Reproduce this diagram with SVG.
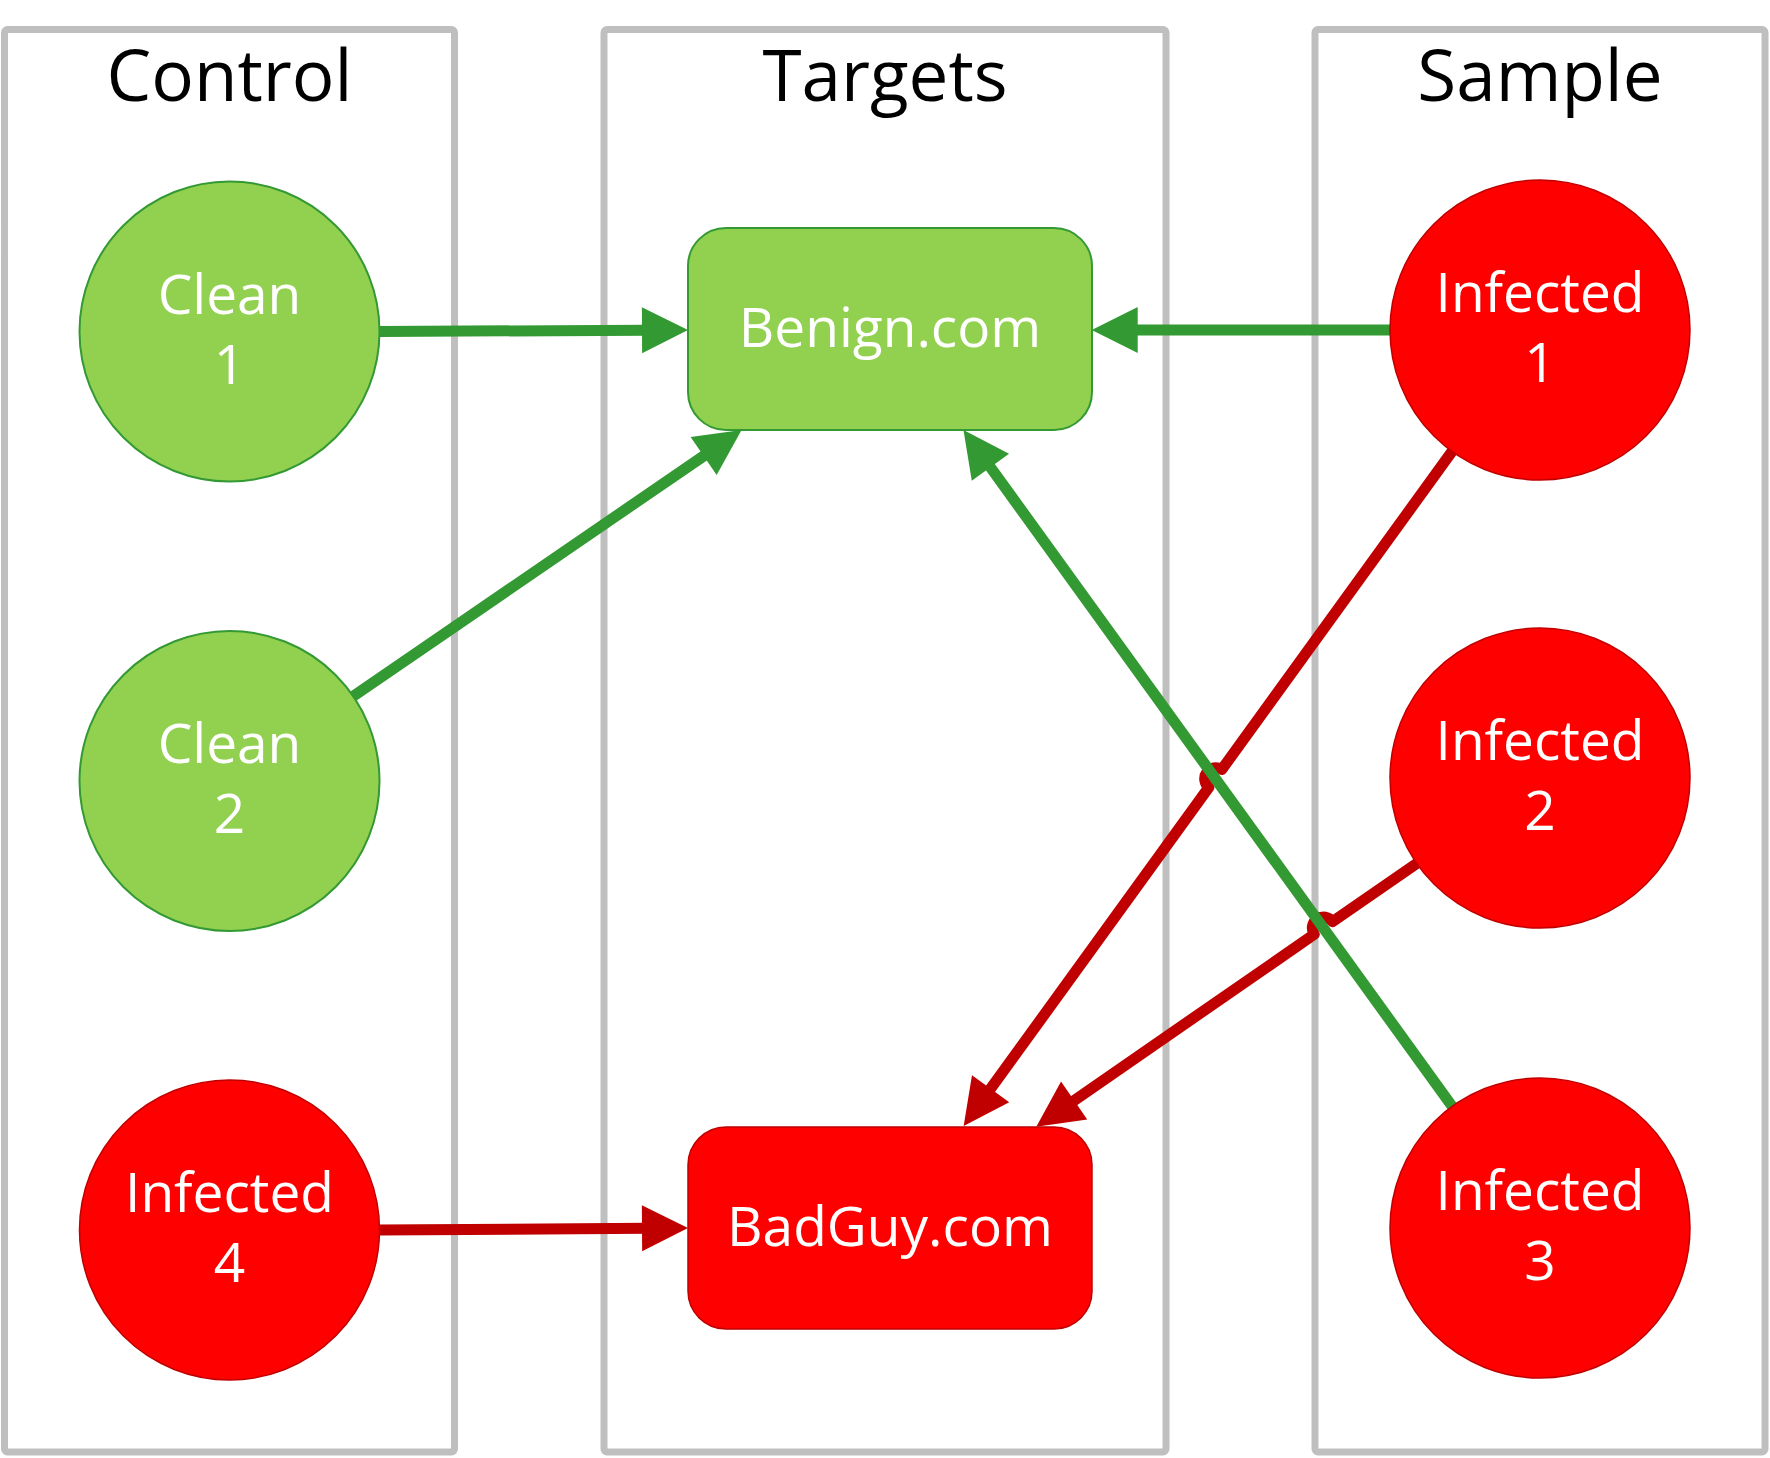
<svg xmlns="http://www.w3.org/2000/svg" width="1770" height="1458" viewBox="0 0 1770 1458">
<style>
.panel{fill:none;stroke:#BFBFBF;stroke-width:7}
.title{font-family:"Open Sans","Noto Sans",sans-serif;font-size:71px;fill:#000;text-anchor:middle}
.lbl{font-family:"Open Sans","Noto Sans",sans-serif;font-size:55px;fill:#fff;text-anchor:middle}
.gnode{fill:#92D050;stroke:#339933;stroke-width:2}
.rnode{fill:#FF0000;stroke:#C00000;stroke-width:1.5}
.gline{fill:none;stroke:#339933;stroke-width:11;stroke-linecap:round;stroke-linejoin:round;marker-end:url(#ag)}
.rline{fill:none;stroke:#C00000;stroke-width:11;stroke-linecap:round;stroke-linejoin:round;marker-end:url(#ar)}
</style>
<defs>
<marker id="ag" markerUnits="userSpaceOnUse" markerWidth="46" markerHeight="46" refX="6" refY="23" orient="auto" overflow="visible"><path d="M0,0 L46,23 L0,46 z" fill="#339933"/></marker>
<marker id="ar" markerUnits="userSpaceOnUse" markerWidth="46" markerHeight="46" refX="6" refY="23" orient="auto" overflow="visible"><path d="M0,0 L46,23 L0,46 z" fill="#C00000"/></marker>
</defs>
<rect width="1770" height="1458" fill="#fff"/>
<g id="panels">
<g id="panel-control"><rect class="panel" x="4.5" y="29.5" width="450" height="1422.5" rx="3"/><text class="title" x="229.5" y="101">Control</text></g>
<g id="panel-targets"><rect class="panel" x="604" y="29.5" width="562" height="1422.5" rx="3"/><text class="title" x="885" y="101">Targets</text></g>
<g id="panel-sample"><rect class="panel" x="1315" y="29.5" width="450" height="1422.5" rx="3"/><text class="title" x="1540" y="101">Sample</text></g>
</g>
<g id="connectors">
<path class="rline" d="M379.5,1230 L648,1228.3"/>
<path class="rline" d="M1452,451.5 L1221.8,769.5 A11,11 0 0 0 1208.9,787.3 L987.1,1093.6"/>
<path class="rline" d="M1416.7,863.4 L1332.4,921.7 A11,11 0 0 0 1314.3,934.3 L1069.2,1103.9"/>
<path class="gline" d="M379.5,331.5 L648,330.2"/>
<path class="gline" d="M1390,330 L1131.7,330"/>
<path class="gline" d="M353.2,696.2 L708.6,452.6"/>
<path class="gline" d="M1452.2,1106.4 L986.9,462.4"/>
</g>
<g id="clean1"><circle class="gnode" cx="229.5" cy="331.5" r="150"/><text class="lbl" x="229.5" y="313.5">Clean</text><text class="lbl" x="229.5" y="383.5">1</text></g>
<g id="clean2"><circle class="gnode" cx="229.5" cy="781" r="150"/><text class="lbl" x="229.5" y="763">Clean</text><text class="lbl" x="229.5" y="833">2</text></g>
<g id="infected4"><circle class="rnode" cx="229.5" cy="1230" r="150"/><text class="lbl" x="229.5" y="1212">Infected</text><text class="lbl" x="229.5" y="1282">4</text></g>
<g id="benign"><rect class="gnode" x="688" y="228" width="404" height="202" rx="38"/><text class="lbl" x="890" y="346.5">Benign.com</text></g>
<g id="badguy"><rect class="rnode" x="688" y="1127" width="404" height="202" rx="38"/><text class="lbl" x="890" y="1245.5">BadGuy.com</text></g>
<g id="infected1"><circle class="rnode" cx="1540" cy="330" r="150"/><text class="lbl" x="1540" y="312">Infected</text><text class="lbl" x="1540" y="382">1</text></g>
<g id="infected2"><circle class="rnode" cx="1540" cy="778" r="150"/><text class="lbl" x="1540" y="760">Infected</text><text class="lbl" x="1540" y="830">2</text></g>
<g id="infected3"><circle class="rnode" cx="1540" cy="1228" r="150"/><text class="lbl" x="1540" y="1210">Infected</text><text class="lbl" x="1540" y="1280">3</text></g>
</svg>
